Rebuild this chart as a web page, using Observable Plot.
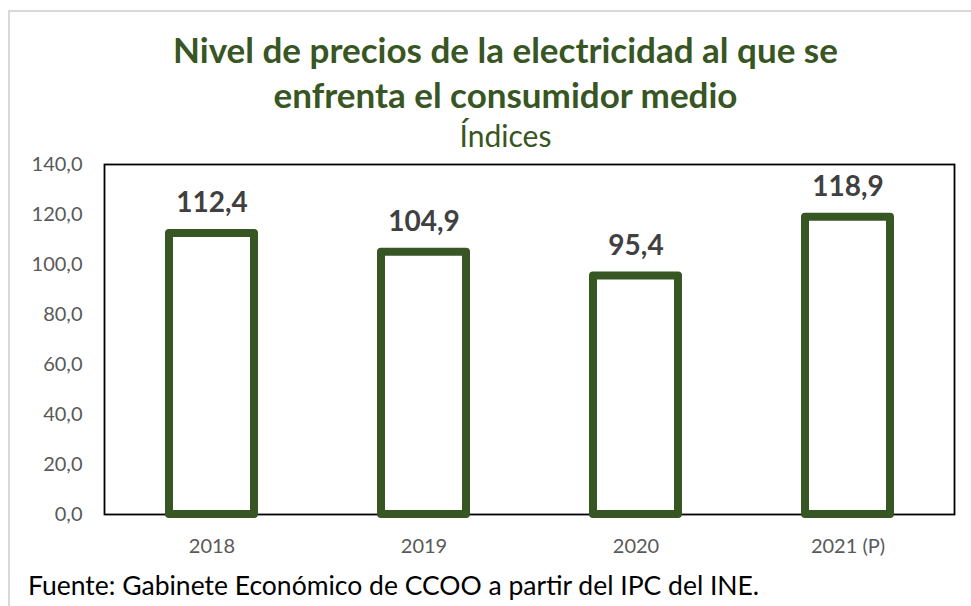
<!DOCTYPE html>
<html>
<head>
<meta charset="utf-8">
<script src="https://cdn.jsdelivr.net/npm/d3@7"></script>
<script src="https://cdn.jsdelivr.net/npm/@observablehq/plot@0.6"></script>
<style>
  html, body { margin: 0; padding: 0; background: #fff; }
  body { width: 971px; height: 606px; position: relative; overflow: hidden; font-family: Lato, "Open Sans", sans-serif; }
  #border { position: absolute; left: 8px; top: 10px; width: 975px; height: 620px; border: 2px solid #d9d9d9; box-sizing: border-box; }
  .title { position: absolute; left: 20px; width: 971px; text-align: center; color: #375623; font-weight: bold; font-size: 35px; line-height: 1; }
  #sub { position: absolute; left: 20px; width: 971px; text-align: center; color: #375623; font-size: 30px; top: 120px; line-height: 1; }
  #chart { position: absolute; left: 0; top: 150px; }
  #caption { position: absolute; left: 28px; top: 571.5px; font-size: 26.5px; color: #000; line-height: 1; white-space: nowrap; }
</style>
</head>
<body>
<div id="border"></div>
<div class="title" style="top:31.5px">Nivel de precios de la electricidad al que se</div>
<div class="title" style="top:77px">enfrenta el consumidor medio</div>
<div id="sub">Índices</div>
<div id="chart"></div>
<div id="caption">Fuente: Gabinete Económico de CCOO a partir del IPC del INE.</div>
<script>
const years = ["2018", "2019", "2020", "2021 (P)"];
const values = [112.4, 104.9, 95.4, 118.9];
const yTicks = [0, 20, 40, 60, 80, 100, 120, 140];

const data = years.map((y, i) => ({year: y, value: values[i]}));
const fmt = d => d.toFixed(1).replace(".", ",");
const green = "#375623";

const plot = Plot.plot({
  width: 971,
  height: 400,
  marginTop: 14,
  marginBottom: 36,
  marginLeft: 104,
  marginRight: 17,
  style: {fontFamily: "Lato, 'Open Sans', sans-serif", background: "transparent", overflow: "visible"},
  x: {domain: years, paddingInner: 0.6, paddingOuter: 0.3, label: null},
  y: {domain: [0, 140], label: null},
  marks: [
    Plot.frame({stroke: "#000", strokeWidth: 1.8}),
    Plot.barY(data, {x: "year", y: "value", fill: "#fff", stroke: green, strokeWidth: 8, strokeLinejoin: "round"}),
    Plot.text(data, {x: "year", y: "value", text: d => fmt(d.value), dy: -30, fontSize: 28, fontWeight: "bold", fill: "#404040"}),
    Plot.axisY(yTicks, {tickSize: 0, tickPadding: 22, tickFormat: fmt, fontSize: 20, fill: "#595959"}),
    Plot.axisX({tickSize: 0, tickPadding: 24, fontSize: 20, fill: "#595959"})
  ]
});
document.getElementById("chart").appendChild(plot);
</script>
</body>
</html>
